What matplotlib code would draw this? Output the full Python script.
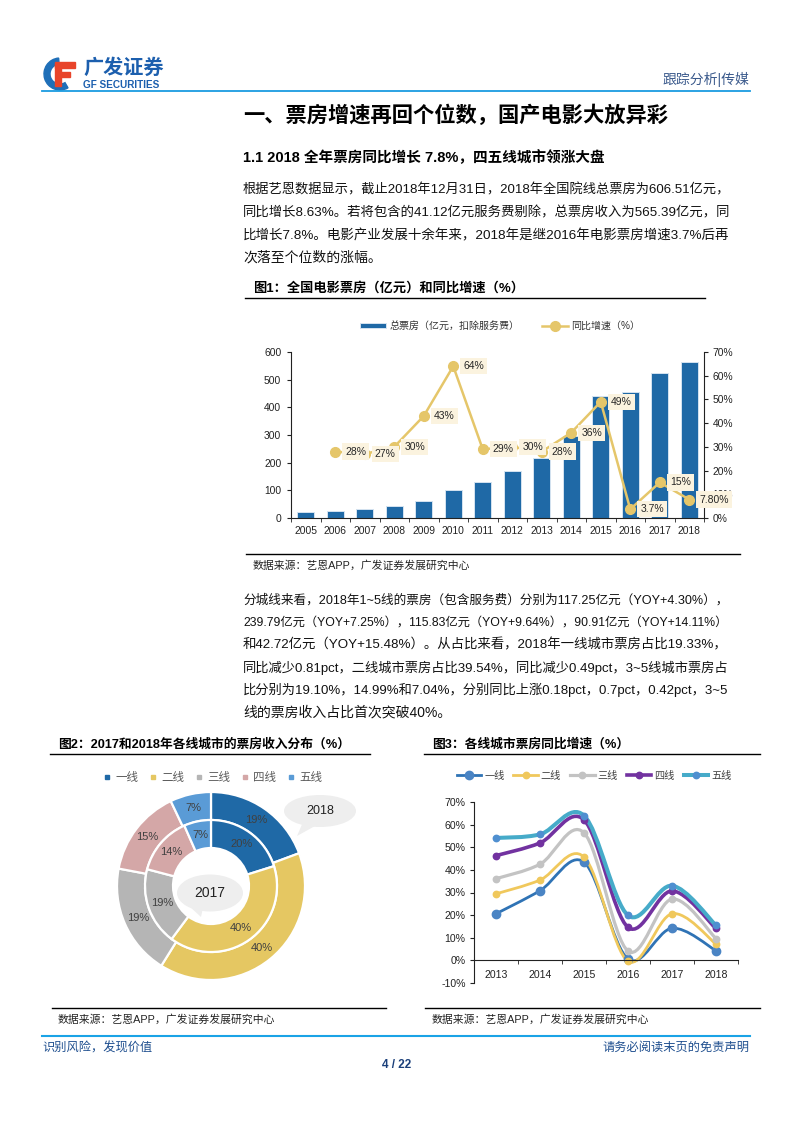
import matplotlib
matplotlib.use("Agg")
import matplotlib.pyplot as plt
from matplotlib.lines import Line2D
from matplotlib.patches import Ellipse, Polygon, Wedge, Rectangle, PathPatch
from matplotlib.path import Path
import numpy as np

plt.rcParams['font.family'] = ['Liberation Sans', 'Noto Sans CJK SC', 'DejaVu Sans']

# ---------------- data ----------------
years1 = ['2005', '2006', '2007', '2008', '2009', '2010', '2011', '2012', '2013', '2014',
          '2015', '2016', '2017', '2018']
box_office = [20, 26, 33, 43, 62, 102, 131, 171, 218, 296, 441, 457, 523, 565]
growth_years = ['2006', '2007', '2008', '2009', '2010', '2011', '2012', '2013', '2014',
                '2015', '2016', '2017', '2018']
growth = [28, 27, 30, 43, 64, 29, 30, 28, 36, 49, 3.7, 15, 7.8]
growth_labels = ['28%', '27%', '30%', '43%', '64%', '29%', '30%', '28%', '36%', '49%',
                 '3.7%', '15%', '7.80%']

tiers = ['一线', '二线', '三线', '四线', '五线']
share_2018 = [19.33, 39.54, 19.10, 14.99, 7.04]
share_2017 = [20.14, 40.03, 18.92, 14.29, 6.62]

years3 = ['2013', '2014', '2015', '2016', '2017', '2018']
yoy_tier1 = [20.6, 30.8, 43.4, 0.6, 14.2, 4.30]
yoy_tier2 = [29.4, 35.5, 45.7, -0.4, 20.6, 7.25]
yoy_tier3 = [36.1, 42.5, 56.4, 4.1, 27.1, 9.64]
yoy_tier4 = [46.3, 51.9, 62.1, 14.6, 30.7, 14.11]
yoy_tier5 = [54.1, 55.7, 64.0, 19.9, 33.0, 15.48]

# ---------------- figure ----------------
W, H = 793, 1122
fig = plt.figure(figsize=(W / 100, H / 100), dpi=100)
fig.patch.set_facecolor('white')


def T(x, y, s, size, ha='left', va='center', weight='normal', color='#000000', **kw):
    return fig.text(x / W, 1 - y / H, s, fontsize=size, ha=ha, va=va,
                    fontweight=weight, color=color, **kw)


def HL(x0, x1, y, color='#000000', lw=1.0):
    fig.add_artist(Line2D([x0 / W, x1 / W], [1 - y / H, 1 - y / H],
                          transform=fig.transFigure, color=color, lw=lw))


def AX(x0, y0, x1, y1):
    # pixel box (left, top, right, bottom)
    return fig.add_axes([x0 / W, 1 - y1 / H, (x1 - x0) / W, (y1 - y0) / H])


# ---------------- header ----------------
lax = AX(40, 50, 80, 95)
lax.set_xlim(0, 40); lax.set_ylim(0, 45); lax.axis('off')
lax.add_patch(Wedge((20, 21), 16, 95, 300, width=6, color='#1f6fb8'))
lax.add_patch(Rectangle((15, 9), 6, 22, color='#e8442a'))
lax.add_patch(Rectangle((15, 27), 20, 6, color='#e8442a'))
lax.add_patch(Rectangle((21, 18), 9, 5, color='#e8442a'))
T(83, 68, '广发证券', 14.5, weight='bold', color='#1c5fae')
T(83, 85, 'GF SECURITIES', 7.2, weight='bold', color='#1c5fae')
T(749, 79, '跟踪分析|传媒', 10, ha='right', color='#3b5a8c')
HL(42, 750, 91, color='#1a9be0', lw=1.3)

T(243, 115, '一、票房增速再回个位数，国产电影大放异彩', 15.3, weight='bold')
T(243, 158, '1.1 2018 全年票房同比增长 7.8%，四五线城市领涨大盘', 10.5, weight='bold')

para1 = ['根据艺恩数据显示，截止2018年12月31日，2018年全国院线总票房为606.51亿元，',
         '同比增长8.63%。若将包含的41.12亿元服务费剔除，总票房收入为565.39亿元，同',
         '比增长7.8%。电影产业发展十余年来，2018年是继2016年电影票房增速3.7%后再',
         '次落至个位数的涨幅。']
para2 = ['分城线来看，2018年1~5线的票房（包含服务费）分别为117.25亿元（YOY+4.30%），',
         '239.79亿元（YOY+7.25%），115.83亿元（YOY+9.64%），90.91亿元（YOY+14.11%）',
         '和42.72亿元（YOY+15.48%）。从占比来看，2018年一线城市票房占比19.33%，',
         '同比减少0.81pct，二线城市票房占比39.54%，同比减少0.49pct，3~5线城市票房占',
         '比分别为19.10%，14.99%和7.04%，分别同比上涨0.18pct，0.7pct，0.42pct，3~5',
         '线的票房收入占比首次突破40%。']

renderer = fig.canvas.get_renderer()


def para(lines, ys, x0=243, x1=728, base=10.0):
    for i, (s, y) in enumerate(zip(lines, ys)):
        t = T(x0, y, s, base, color='#111111')
        if i < len(lines) - 1:
            w = t.get_window_extent(renderer).width
            size = base * (x1 - x0) / w
            t.set_fontsize(max(8.5, min(11, size)))


para(para1, [190, 213, 236, 258])
para(para2, [600, 623, 645, 668, 690, 713])

# ---------------- figure 1 ----------------
T(253, 288, '图1：全国电影票房（亿元）和同比增速（%）', 9.5, weight='bold')
HL(245, 705, 298, lw=1.0)
HL(246, 740, 554, lw=1.0)
T(253, 566, '数据来源：艺恩APP，广发证券发展研究中心', 7.8, color='#222222')

ax1 = AX(291, 352, 704, 518)
x1 = np.arange(len(years1))
ax1.bar(x1, box_office, width=0.56, color='#1f69a6', edgecolor='#d5e3f0', linewidth=0.7,
        label='总票房（亿元，扣除服务费）', zorder=2)
ax1.set_xlim(-0.5, len(years1) - 0.5)
ax1.set_ylim(0, 600)
ax1.set_yticks(range(0, 601, 100))
ax1.set_xticks(x1)
ax1.set_xticklabels(years1)
ax1.set_xticks(np.arange(-0.5, len(years1)), minor=True)
ax1.tick_params(axis='x', which='major', length=0, pad=6, labelsize=7.4, colors='#222222')
ax1.tick_params(axis='x', which='minor', length=3, direction='out', color='#222222')
ax1.tick_params(axis='y', length=3, direction='out', pad=4, labelsize=7.4, colors='#222222')
for sp in ['top', 'right']:
    ax1.spines[sp].set_visible(False)
for sp in ['left', 'bottom']:
    ax1.spines[sp].set_color('#222222')
    ax1.spines[sp].set_linewidth(0.8)

ax2 = ax1.twinx()
ax2.set_ylim(0, 70)
ax2.set_yticks(range(0, 71, 10))
ax2.set_yticklabels([f'{v}%' for v in range(0, 71, 10)])
ax2.tick_params(axis='y', length=3, direction='out', pad=3, labelsize=7.4, colors='#222222')
for sp in ['top', 'left', 'bottom']:
    ax2.spines[sp].set_visible(False)
ax2.spines['right'].set_color('#222222')
ax2.spines['right'].set_linewidth(0.8)
gx = [years1.index(y) for y in growth_years]
ax2.plot(gx, growth, color='#e5c66a', lw=1.8, marker='o', ms=7, mfc='#e5c66a',
         mec='#e5c66a', label='同比增速（%）', zorder=3)
for xx, yy, lab in zip(gx, growth, growth_labels):
    ax2.annotate(lab, (xx, yy), xytext=(10, 0), textcoords='offset pixels', ha='left',
                 va='center', fontsize=7.5, color='#262626', zorder=4,
                 bbox=dict(boxstyle='square,pad=0.3', fc='#fbf3df', ec='none'))

h1, l1 = ax1.get_legend_handles_labels()
h2, l2 = ax2.get_legend_handles_labels()
fig.legend(h1 + h2, l1 + l2, loc='center', bbox_to_anchor=(500 / W, 1 - 326 / H), ncol=2,
           frameon=False, fontsize=7.2, handlelength=2.6, handleheight=0.5,
           columnspacing=2.2, handletextpad=0.4, labelcolor='#333333')

# ---------------- figure 2 ----------------
T(58, 744, '图2：2017和2018年各线城市的票房收入分布（%）', 9.2, weight='bold')
HL(50, 370, 754, lw=1.0)
HL(52, 386, 1008, lw=1.0)
T(58, 1020, '数据来源：艺恩APP，广发证券发展研究中心', 7.8, color='#222222')

pie_colors = ['#1f69a6', '#e5c762', '#b5b5b5', '#d4a7a7', '#5a9bd6']
cx, cy = 211, 886
axp = AX(cx - 150, cy - 150, cx + 150, cy + 150)
axp.pie(share_2018, radius=94, startangle=90, counterclock=False, colors=pie_colors,
        autopct='%.0f%%', pctdistance=80 / 94,
        textprops=dict(fontsize=8, color='#404040'),
        wedgeprops=dict(width=28, edgecolor='white', linewidth=1.6))
axp.pie(share_2017, radius=66, startangle=90, counterclock=False, colors=pie_colors,
        autopct='%.0f%%', pctdistance=52 / 66,
        textprops=dict(fontsize=8, color='#404040'),
        wedgeprops=dict(width=28, edgecolor='white', linewidth=1.6))
axp.set_xlim(-150, 150)
axp.set_ylim(-150, 150)
axp.set_aspect('equal')
axp.axis('off')
# speech bubbles
axp.add_patch(Polygon([(92, 64), (104, 60), (86, 50)], closed=True, fc='#eeeeee', ec='none',
                      clip_on=False))
axp.add_patch(Ellipse((109, 75), 72, 32, fc='#eeeeee', ec='none', clip_on=False))
axp.text(109, 75, '2018', ha='center', va='center', fontsize=9, color='#222222')
axp.add_patch(Polygon([(-22, -20), (-8, -22), (-10, -31)], closed=True, fc='#eeeeee',
                      ec='none'))
axp.add_patch(Ellipse((-1, -7), 66, 37, fc='#eeeeee', ec='none'))
axp.text(-1, -7, '2017', ha='center', va='center', fontsize=10, color='#222222')

pie_handles = [Line2D([], [], ls='none', marker='s', ms=3.5, color=c) for c in pie_colors]
fig.legend(pie_handles, tiers, loc='center', bbox_to_anchor=(213 / W, 1 - 778 / H), ncol=5,
           frameon=False, fontsize=8.3, handlelength=0.6, handletextpad=0.4,
           columnspacing=1.0, labelcolor='#595959')

# ---------------- figure 3 ----------------
T(432, 744, '图3：各线城市票房同比增速（%）', 9.2, weight='bold')
HL(424, 760, 754, lw=1.0)
HL(425, 760, 1008, lw=1.0)
T(432, 1020, '数据来源：艺恩APP，广发证券发展研究中心', 7.8, color='#222222')

ax3 = AX(474, 802, 738, 983)
x3 = np.arange(len(years3))
ax3.set_xlim(-0.5, len(years3) - 0.5)
ax3.set_ylim(-10, 70)
ax3.set_yticks(range(-10, 71, 10))
ax3.set_yticklabels([f'{v}%' for v in range(-10, 71, 10)])
ax3.set_xticks(x3)
ax3.set_xticklabels(years3)
ax3.set_xticks(np.arange(-0.5, len(years3)), minor=True)
ax3.spines['bottom'].set_position(('data', 0))
for sp in ['top', 'right']:
    ax3.spines[sp].set_visible(False)
for sp in ['left', 'bottom']:
    ax3.spines[sp].set_color('#222222')
    ax3.spines[sp].set_linewidth(0.8)
ax3.tick_params(axis='x', which='major', length=0, pad=7, labelsize=7.6, colors='#222222')
ax3.tick_params(axis='x', which='minor', length=3, direction='out', color='#222222')
ax3.tick_params(axis='y', length=3, direction='out', pad=3, labelsize=7.6, colors='#222222')

series3 = [yoy_tier1, yoy_tier2, yoy_tier3, yoy_tier4, yoy_tier5]
line_colors = ['#2f73b5', '#f0c85c', '#c3c3c3', '#7232a0', '#46abc9']
marker_colors = ['#4a84c4', '#f0c85c', '#c3c3c3', '#7232a0', '#4f8fd0']
line_w = [2.0, 2.0, 2.3, 2.6, 2.9]
marker_s = [6.0, 4.6, 4.6, 4.6, 4.6]


def smooth_path(xs, ys):
    P = np.column_stack([xs, ys]).astype(float)
    n = len(P)
    verts = [P[0]]
    codes = [Path.MOVETO]
    for i in range(n - 1):
        p0 = P[i - 1] if i > 0 else P[i]
        p3 = P[i + 2] if i + 2 < n else P[i + 1]
        c1 = P[i] + (P[i + 1] - p0) / 6.0
        c2 = P[i + 1] - (p3 - P[i]) / 6.0
        verts += [c1, c2, P[i + 1]]
        codes += [Path.CURVE4] * 3
    return Path(verts, codes)


handles3 = []
for vals, lc, mc, lw, ms, name in zip(series3, line_colors, marker_colors, line_w,
                                      marker_s, tiers):
    ax3.add_patch(PathPatch(smooth_path(x3, vals), fill=False, ec=lc, lw=lw,
                            capstyle='round', joinstyle='round'))
    ax3.plot(x3, vals, ls='none', marker='o', ms=ms, color=mc)
    handles3.append(Line2D([], [], color=lc, lw=lw, marker='o', ms=ms, mfc=mc, mec=mc))
fig.legend(handles3, tiers, loc='center', bbox_to_anchor=(594 / W, 1 - 776 / H), ncol=5,
           frameon=False, fontsize=7.3, handlelength=2.4, handletextpad=0.3,
           columnspacing=0.9, labelcolor='#404040')

# ---------------- footer ----------------
HL(42, 750, 1036, color='#1aa3e6', lw=1.5)
T(42, 1048, '识别风险，发现价值', 8.8, color='#1f4f8f')
T(749, 1048, '请务必阅读末页的免责声明', 8.8, ha='right', color='#1f4f8f')
T(397, 1065, '4 / 22', 8.5, ha='center', weight='bold', color='#1a3f7a')

fig.savefig('out.png', dpi=100)
